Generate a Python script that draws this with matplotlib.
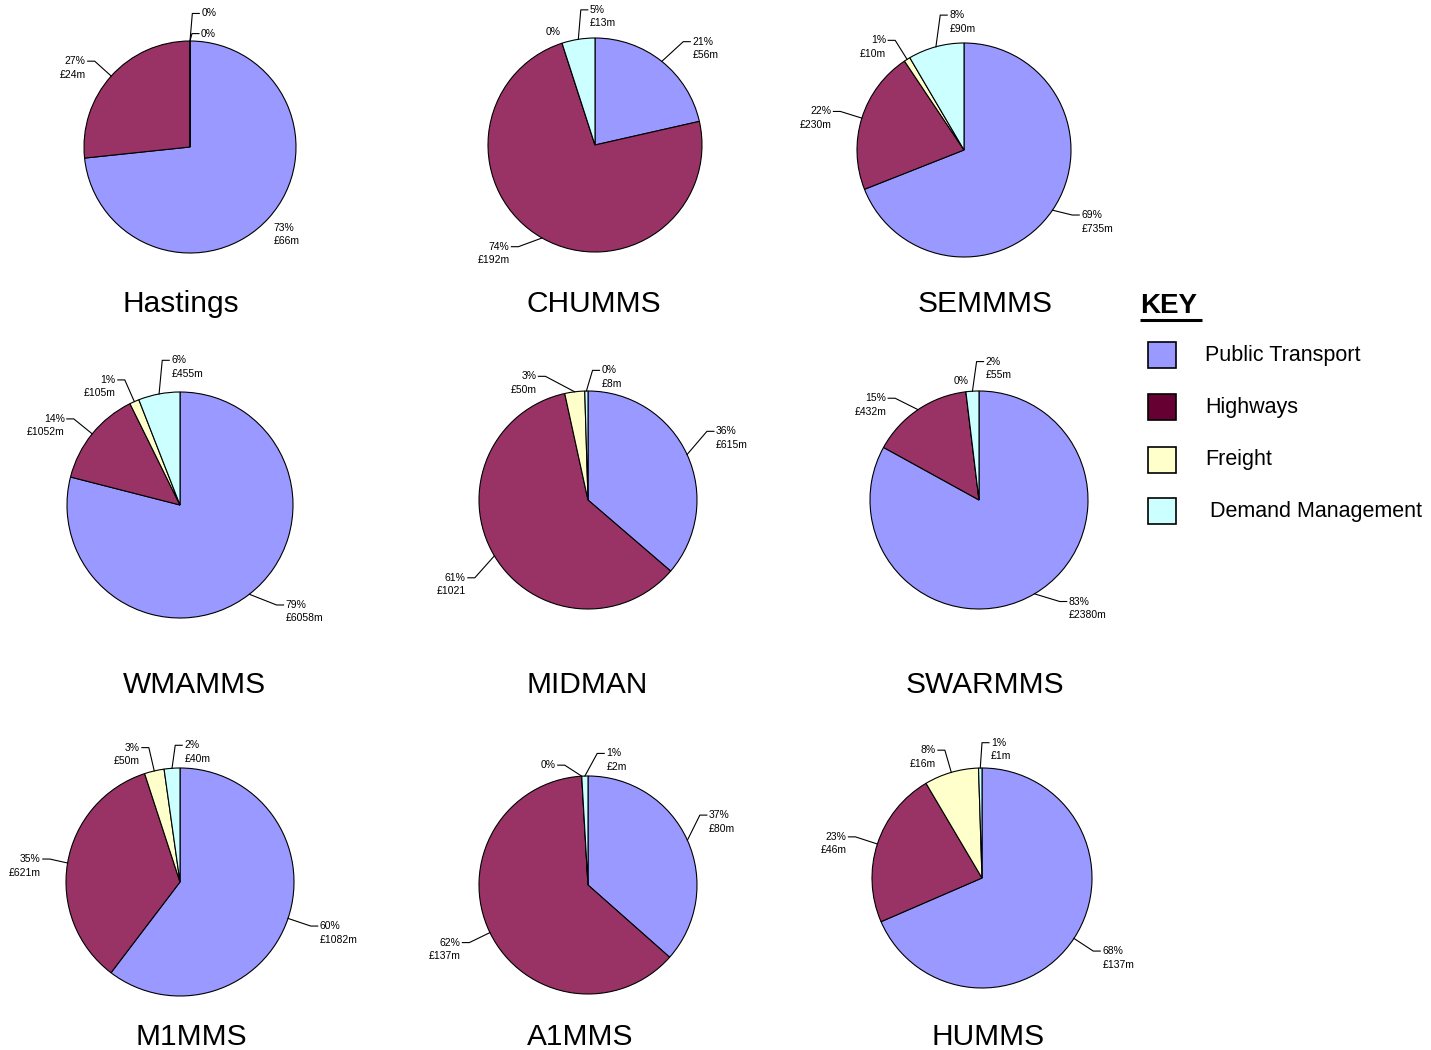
"""Spend split by mode for nine multi-modal studies, one pie each."""

import numpy as np
import matplotlib.pyplot as plt
from matplotlib.patches import Rectangle

plt.rcParams["font.family"] = ["Liberation Sans", "DejaVu Sans"]

W, H = 1431, 1050

categories = ["Public Transport", "Highways", "Freight", "Demand Management"]
pie_colors = ["#9999FF", "#993366", "#FFFFCC", "#CCFFFF"]
key_colors = ["#9999FF", "#660033", "#FFFFCC", "#CCFFFF"]

schemes = ["Hastings", "CHUMMS", "SEMMMS", "WMAMMS", "MIDMAN",
           "SWARMMS", "M1MMS", "A1MMS", "HUMMS"]

# spend in £m, order: Public Transport, Highways, Freight, Demand Management
spend = {
    "Hastings": [66, 24, 0, 0],
    "CHUMMS": [56, 192, 0, 13],
    "SEMMMS": [735, 230, 10, 90],
    "WMAMMS": [6058, 1052, 105, 455],
    "MIDMAN": [615, 1021, 50, 8],
    "SWARMMS": [2380, 432, 0, 55],
    "M1MMS": [1082, 621, 50, 40],
    "A1MMS": [80, 137, 0, 2],
    "HUMMS": [137, 46, 16, 1],
}
pct_labels = {
    "Hastings": ["73%", "27%", "0%", "0%"],
    "CHUMMS": ["21%", "74%", "0%", "5%"],
    "SEMMMS": ["69%", "22%", "1%", "8%"],
    "WMAMMS": ["79%", "14%", "1%", "6%"],
    "MIDMAN": ["36%", "61%", "3%", "0%"],
    "SWARMMS": ["83%", "15%", "0%", "2%"],
    "M1MMS": ["60%", "35%", "3%", "2%"],
    "A1MMS": ["37%", "62%", "0%", "1%"],
    "HUMMS": ["68%", "23%", "8%", "1%"],
}
value_labels = {
    "Hastings": ["£66m", "£24m", "", ""],
    "CHUMMS": ["£56m", "£192m", "", "£13m"],
    "SEMMMS": ["£735m", "£230m", "£10m", "£90m"],
    "WMAMMS": ["£6058m", "£1052m", "£105m", "£455m"],
    "MIDMAN": ["£615m", "£1021", "£50m", "£8m"],
    "SWARMMS": ["£2380m", "£432m", "", "£55m"],
    "M1MMS": ["£1082m", "£621m", "£50m", "£40m"],
    "A1MMS": ["£80m", "£137m", "", "£2m"],
    "HUMMS": ["£137m", "£46m", "£16m", "£1m"],
}

# layout (pixels, y measured from the top)
pie_centres = [(190, 147), (595, 145), (964, 150), (180, 505), (588, 500),
               (979, 500), (180, 882), (588, 885), (982, 878)]
pie_radii = [106, 107, 107, 113, 109, 109, 114, 109, 110]
title_pos = [(181, 312), (594, 312), (985, 312), (194, 693), (587, 693),
             (985, 693), (191, 1045), (580, 1045), (988, 1045)]

# labels that Excel nudged away from the slice middle
label_tweaks = {
    ("Hastings", 0): dict(angle=-44, rf=1.10, leader=False),
    ("Hastings", 2): dict(angle=89, rf=1.07, side="right"),
    ("Hastings", 3): dict(angle=89, rf=1.26, side="right"),
    ("CHUMMS", 0): dict(angle=49.5, rf=1.27),
    ("CHUMMS", 1): dict(angle=-127, rf=1.19),
    ("CHUMMS", 2): dict(angle=107, rf=1.10, leader=False),
    ("CHUMMS", 3): dict(angle=96, rf=1.27, side="right"),
    ("SEMMMS", 0): dict(angle=-31, rf=1.18),
    ("SEMMMS", 3): dict(angle=100, rf=1.28, side="right"),
    ("WMAMMS", 0): dict(angle=-46, rf=1.23),
    ("WMAMMS", 3): dict(angle=97, rf=1.29, side="right"),
    ("MIDMAN", 0): dict(angle=30, rf=1.26),
    ("MIDMAN", 1): dict(angle=-145.5, rf=1.26),
    ("MIDMAN", 2): dict(angle=109, rf=1.20),
    ("MIDMAN", 3): dict(angle=88, rf=1.19, side="right"),
    ("SWARMMS", 0): dict(angle=-51.5, rf=1.19),
    ("SWARMMS", 1): dict(angle=129.5, rf=1.21),
    ("SWARMMS", 2): dict(angle=95, rf=1.10, leader=False),
    ("SWARMMS", 3): dict(angle=91, rf=1.27, side="right"),
    ("M1MMS", 1): dict(angle=170, rf=1.16),
    ("M1MMS", 3): dict(angle=92, rf=1.20, side="right"),
    ("A1MMS", 0): dict(angle=32, rf=1.21),
    ("A1MMS", 2): dict(angle=101, rf=1.12),
    ("A1MMS", 3): dict(angle=86, rf=1.21, side="right"),
    ("HUMMS", 3): dict(angle=90, rf=1.23, side="right"),
}

fig = plt.figure(figsize=(W / 100, H / 100), dpi=100)
ax = fig.add_axes([0, 0, 1, 1])

for i, name in enumerate(schemes):
    cx, cy = pie_centres[i]
    cy = H - cy
    r = pie_radii[i]
    wedges, _ = ax.pie(spend[name], colors=pie_colors, startangle=90,
                       counterclock=False, center=(cx, cy), radius=r,
                       wedgeprops=dict(edgecolor="black", linewidth=0.8))
    for j, w in enumerate(wedges):
        mid = 0.5 * (w.theta1 + w.theta2)
        tw = label_tweaks.get((name, j), {})
        ang = tw.get("angle", mid)
        rf = tw.get("rf", 1.21)
        bx = cx + rf * r * np.cos(np.radians(ang))
        by = cy + rf * r * np.sin(np.radians(ang))
        side = tw.get("side", "right" if np.cos(np.radians(ang)) > 0 else "left")
        sgn = 1 if side == "right" else -1
        ha = "left" if side == "right" else "right"
        if tw.get("leader", True):
            ex = cx + r * np.cos(np.radians(mid))
            ey = cy + r * np.sin(np.radians(mid))
            hx = bx + sgn * 7
            ax.plot([ex, bx, hx], [ey, by, by], color="black", lw=0.8)
            tx = hx + sgn * 2
        else:
            tx = bx
        ax.text(tx, by, pct_labels[name][j], ha=ha, va="center", fontsize=7.5)
        if value_labels[name][j]:
            ax.text(tx, by - 13.5, value_labels[name][j], ha=ha, va="center",
                    fontsize=7.5)
    tx, ty = title_pos[i]
    ax.text(tx, H - ty, name, ha="center", va="baseline", fontsize=21.5)

# key
ax.text(1140, H - 313, "KEY", ha="left", va="baseline", fontsize=20,
        fontweight="bold")
ax.plot([1140, 1202], [H - 320, H - 320], color="black", lw=2.2,
        solid_capstyle="butt")
key_rows = [355, 407, 460, 511]
key_text_x = [1205, 1205, 1205, 1210]
for k, cat in enumerate(categories):
    yc = H - key_rows[k]
    ax.add_patch(Rectangle((1148, yc - 13), 28, 26, facecolor=key_colors[k],
                           edgecolor="black", lw=1.2))
    ax.text(key_text_x[k], yc, cat, ha="left", va="center", fontsize=15.5)

ax.set_xlim(0, W)
ax.set_ylim(0, H)
ax.set_aspect("equal")
ax.axis("off")
fig.savefig("out.png", dpi=100)
